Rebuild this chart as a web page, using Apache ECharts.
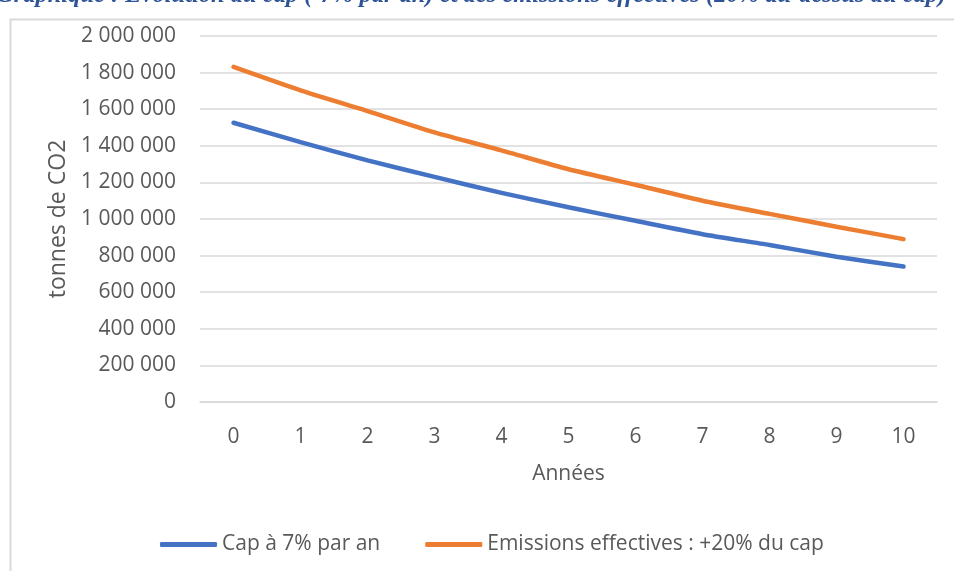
<!DOCTYPE html>
<html>
<head>
<meta charset="utf-8">
<script src="https://cdn.jsdelivr.net/npm/echarts@6/dist/echarts.min.js"></script>
<style>
html,body{margin:0;padding:0;background:#fff;}
#chart{width:954px;height:571px;}
</style>
</head>
<body>
<div id="chart"></div>
<script>
var titleText = 'Graphique : Évolution du cap (-7% par an) et des émissions effectives (20% au-dessus du cap)';
var categories = ['0','1','2','3','4','5','6','7','8','9','10'];
var seriesNames = ['Cap à 7% par an', 'Emissions effectives : +20% du cap'];
var capValues = [1526000, 1420000, 1320000, 1230000, 1143000, 1064000, 990000, 917000, 858000, 794000, 740000];
var emissionValues = [1831000, 1703000, 1590000, 1473000, 1375000, 1272000, 1187000, 1100000, 1028000, 958000, 890000];
var yTicks = [0, 200000, 400000, 600000, 800000, 1000000, 1200000, 1400000, 1600000, 1800000, 2000000];
var yAxisName = 'tonnes de CO2';
var xAxisName = 'Années';

var chart = echarts.init(document.getElementById('chart'), null, {renderer:'canvas'});
var font = '"Open Sans", "Noto Sans", sans-serif';
function fmt(v){ return String(v).replace(/\B(?=(\d{3})+(?!\d))/g, ' '); }

chart.setOption({
  animation:false,
  backgroundColor:'#fff',
  graphic:[
    {type:'rect', left:8, top:17, shape:{x:0,y:0,width:960,height:570}, style:{fill:'none', stroke:'#d9d9d9', lineWidth:2}, z:-1},
    {type:'text', x:-4, y:-17, style:{text:titleText, font:'italic bold 24.5px "Liberation Serif", serif', fill:'#2E5496', textVerticalAlign:'top'}}
  ],
  grid:{left:200, right:17, top:36, bottom:169},
  legend:{
    data:seriesNames,
    bottom:11,
    left:155,
    itemWidth:57,
    itemHeight:5,
    itemGap:45,
    icon:'roundRect',
    textStyle:{color:'#595959', fontSize:21, fontFamily:font}
  },
  xAxis:{
    type:'category',
    data:categories,
    boundaryGap:true,
    axisLine:{show:true, lineStyle:{color:'#d9d9d9', width:1.5}},
    axisTick:{show:false},
    axisLabel:{color:'#595959', fontSize:21, fontFamily:font, margin:25},
    name:xAxisName,
    nameLocation:'middle',
    nameGap:62,
    nameTextStyle:{color:'#595959', fontSize:21, fontFamily:font}
  },
  yAxis:{
    type:'value',
    min:yTicks[0],
    max:yTicks[yTicks.length-1],
    interval:yTicks[1]-yTicks[0],
    axisLine:{show:false},
    axisTick:{show:false},
    splitLine:{lineStyle:{color:'#d9d9d9', width:1.5}},
    axisLabel:{color:'#595959', fontSize:21, fontFamily:font, margin:24, formatter:fmt},
    name:yAxisName,
    nameLocation:'middle',
    nameGap:127,
    nameTextStyle:{color:'#595959', fontSize:23, fontFamily:font}
  },
  series:[
    {name:seriesNames[0], type:'line', data:capValues, smooth:0.2, symbol:'none', color:'#4472C4', lineStyle:{width:4.5, color:'#4472C4', cap:'round'}},
    {name:seriesNames[1], type:'line', data:emissionValues, smooth:0.2, symbol:'none', color:'#ED7D31', lineStyle:{width:4.5, color:'#ED7D31', cap:'round'}}
  ]
});
</script>
</body>
</html>
